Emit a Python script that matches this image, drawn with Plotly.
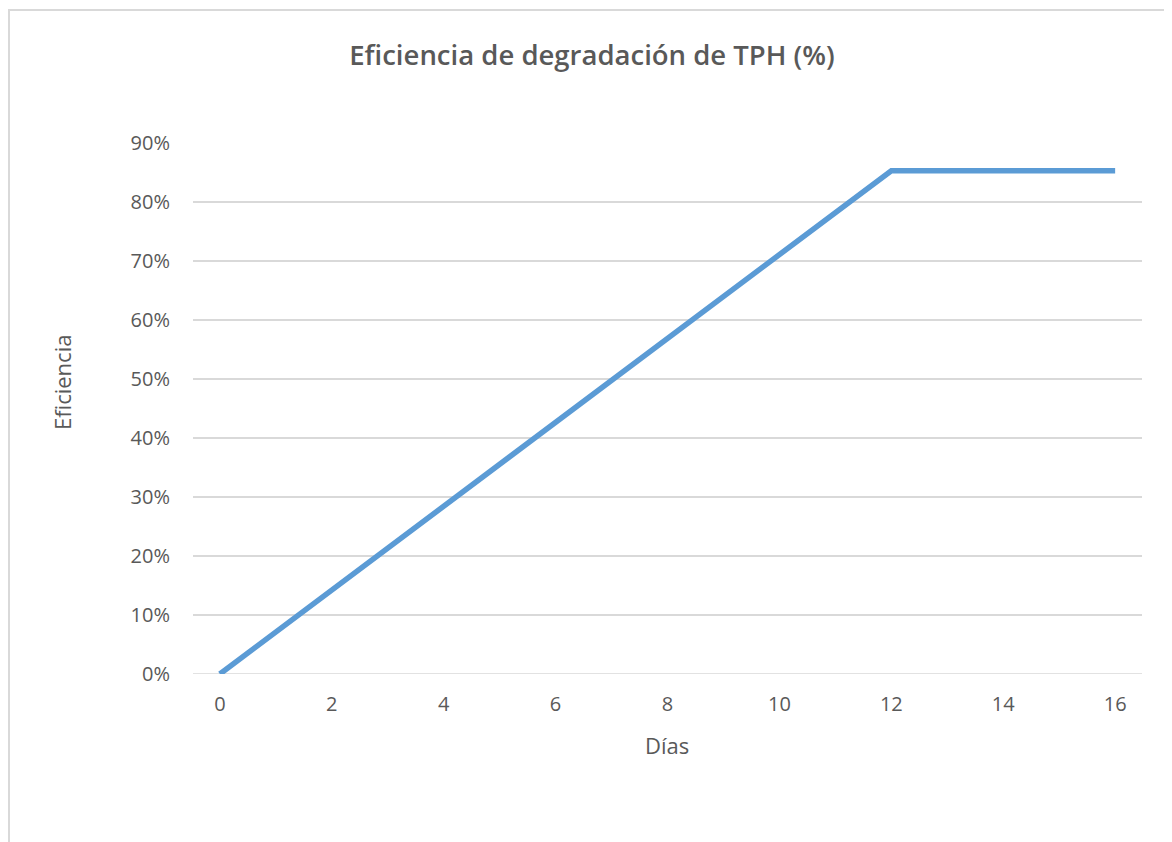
import plotly.graph_objects as go

dias = [0, 12, 16]
eficiencia = [0.0, 0.853, 0.853]
x_ticks = [0, 2, 4, 6, 8, 10, 12, 14, 16]
y_ticks = [0, 0.1, 0.2, 0.3, 0.4, 0.5, 0.6, 0.7, 0.8, 0.9]
y_labels = ["0%", "10%", "20%", "30%", "40%", "50%", "60%", "70%", "80%", "90%"]

# page has an 8px body margin, so figure coords = screenshot coords - 8
W, H = 1164, 834
L, R, T, B = 185, 30, 135, 168
pw, ph = W - L - R, H - T - B

font_family = "Open Sans, Liberation Sans, sans-serif"
txt = "#595959"
grid = "#D9D9D9"

fig = go.Figure()
fig.add_trace(go.Scatter(
    x=dias, y=eficiencia, mode="lines",
    line=dict(color="#5B9BD5", width=5.5),
    showlegend=False, hoverinfo="skip"))

fig.update_layout(
    width=W, height=H,
    margin=dict(l=L, r=R, t=T, b=B, autoexpand=False),
    paper_bgcolor="white", plot_bgcolor="white",
    font=dict(family=font_family, color=txt, size=20),
    title=dict(text="Eficiencia de degradación de TPH (%)",
               x=584 / W, xref="container", xanchor="center",
               y=1 - 47 / H, yref="container", yanchor="middle",
               font=dict(size=27.5, color=txt, family=font_family, weight=600)),
    xaxis=dict(range=[-0.48, 16.48], tickvals=x_ticks, showgrid=False,
               zeroline=False, showline=False, ticks="",
               ticklabelstandoff=16, tickfont=dict(size=20, color=txt)),
    yaxis=dict(range=[0, 0.9], tickvals=y_ticks, ticktext=y_labels,
               showgrid=True, gridcolor=grid, gridwidth=1.5,
               zeroline=False, showline=False, ticks="",
               ticklabelstandoff=22, tickfont=dict(size=20, color=txt)),
)

# x-axis baseline
fig.add_shape(type="line", xref="paper", yref="y", x0=0, x1=1, y0=0, y1=0,
              line=dict(color=grid, width=1.5), layer="below")

# chart-area border
fig.add_shape(type="rect", xref="paper", yref="paper",
              x0=(1 - L) / pw, x1=(W + 20 - L) / pw,
              y0=(H - B - (H + 20)) / ph, y1=(H - B - 2) / ph,
              line=dict(color=grid, width=2), layer="below")

fig.add_annotation(text="Días", xref="paper", yref="paper",
                   x=(659 - L) / pw, y=(H - B - 737) / ph,
                   showarrow=False, font=dict(size=22, color=txt),
                   xanchor="center", yanchor="middle")
fig.add_annotation(text="Eficiencia", xref="paper", yref="paper",
                   x=(54 - L) / pw, y=(H - B - 375) / ph, textangle=-90,
                   showarrow=False, font=dict(size=22, color=txt),
                   xanchor="center", yanchor="middle")

fig.write_html("out.html")
